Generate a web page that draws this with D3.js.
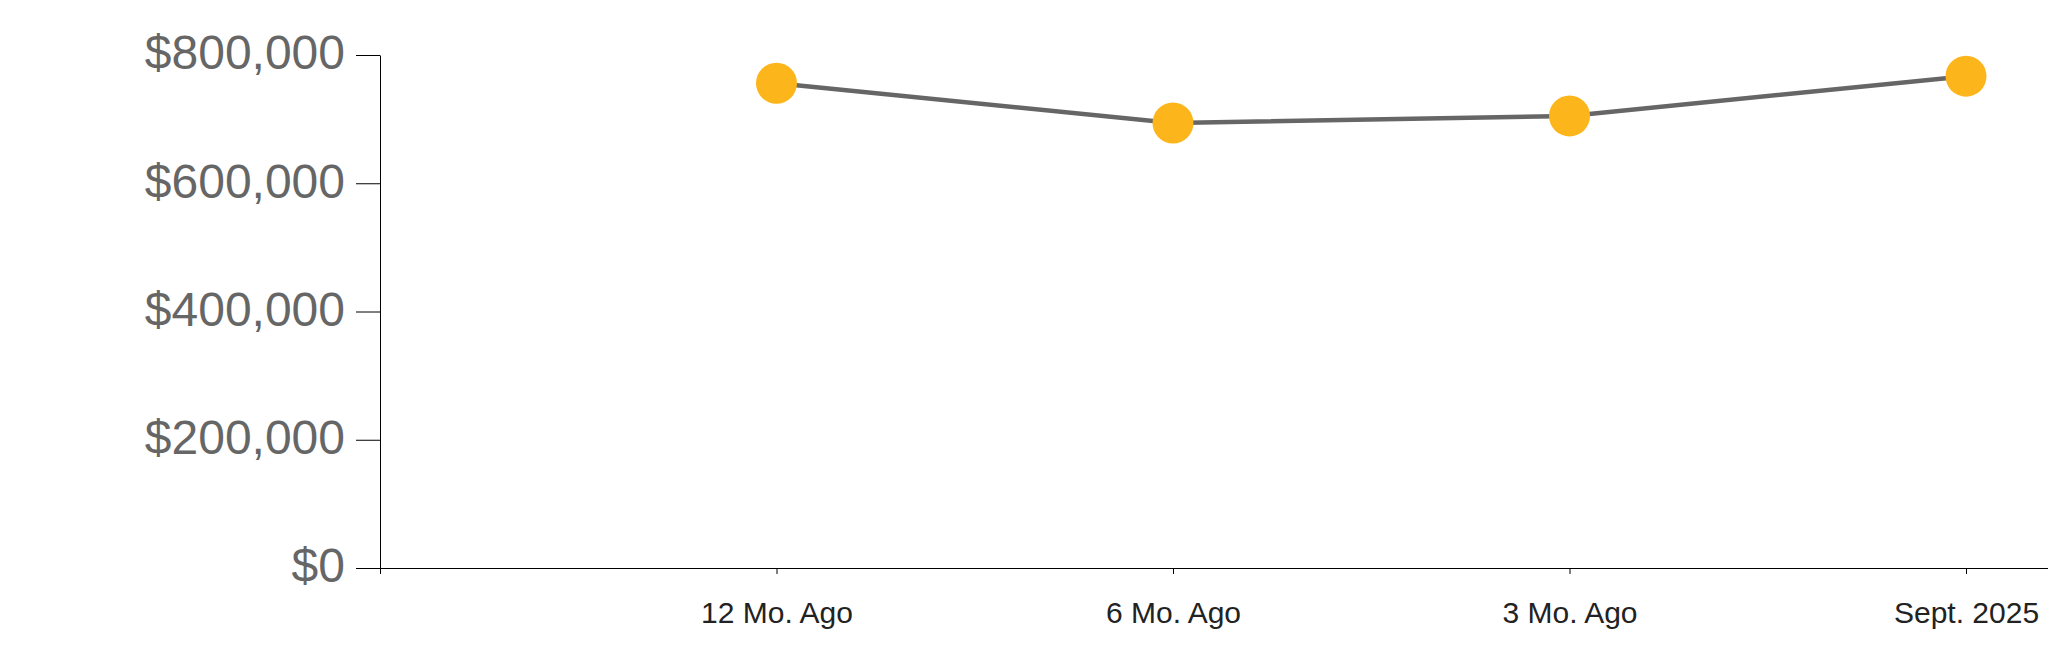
<!DOCTYPE html>
<html>
<head>
<meta charset="utf-8">
<script src="https://cdn.jsdelivr.net/npm/d3@7"></script>
<style>
  html, body { margin: 0; padding: 0; background: #fff; }
  svg { display: block; }
</style>
</head>
<body>
<svg id="chart" width="2048" height="663"></svg>
<script>
const categories = ["12 Mo. Ago", "6 Mo. Ago", "3 Mo. Ago", "Sept. 2025"];
const values = [756000, 694000, 705000, 767000];
const yTicks = [0, 200000, 400000, 600000, 800000];

(function () {
const W = 2048, H = 663;
const mLeft = 380, mTop = 55, mBottom = 568;
const stepPx = 396.5;

const svg = d3.select("#chart");

// x: index 0 is the origin slot, categories at 1..4; range continues to the right edge
const x = d3.scaleLinear()
  .domain([0, (W - mLeft) / stepPx])
  .range([mLeft, W]);

const y = d3.scaleLinear()
  .domain([0, 800000])
  .range([mBottom, mTop]);

// Y axis
const yAxis = d3.axisLeft(y)
  .tickValues(yTicks)
  .tickSize(24)
  .tickSizeOuter(0)
  .tickPadding(11)
  .tickFormat(d => "$" + d3.format(",")(d));

const gy = svg.append("g")
  .attr("transform", `translate(${mLeft},0)`)
  .call(yAxis);
gy.select(".domain").attr("stroke", "#000").attr("stroke-width", 1);
gy.selectAll(".tick line").attr("stroke", "#000");
gy.selectAll(".tick text")
  .attr("fill", "#666")
  .attr("font-family", "'Liberation Sans', Arial, sans-serif")
  .attr("font-size", 48)
  .attr("dy", "0.29em");

// X axis
const xAxis = d3.axisBottom(x)
  .tickValues([0, 1, 2, 3, 4])
  .tickSize(6)
  .tickSizeOuter(0)
  .tickFormat(i => i === 0 ? "" : categories[i - 1]);

const gx = svg.append("g")
  .attr("transform", `translate(0,${mBottom})`)
  .call(xAxis);
gx.select(".domain").attr("stroke", "#000").attr("stroke-width", 1);
gx.selectAll(".tick line").attr("stroke", "#000");
gx.selectAll(".tick text")
  .attr("fill", "#222")
  .attr("font-family", "'Liberation Sans', Arial, sans-serif")
  .attr("font-size", 30)
  .attr("y", 55)
  .attr("dy", "0");

// Line
const pts = values.map((v, i) => ({ i: i + 1, v }));
svg.append("path")
  .datum(pts)
  .attr("fill", "none")
  .attr("stroke", "#666")
  .attr("stroke-width", 4.5)
  .attr("d", d3.line().x(d => x(d.i)).y(d => y(d.v)));

// Points
svg.selectAll("circle.pt")
  .data(pts)
  .join("circle")
  .attr("class", "pt")
  .attr("cx", d => x(d.i))
  .attr("cy", d => y(d.v))
  .attr("r", 20.5)
  .attr("fill", "#FCB51A");
})();
</script>
</body>
</html>
